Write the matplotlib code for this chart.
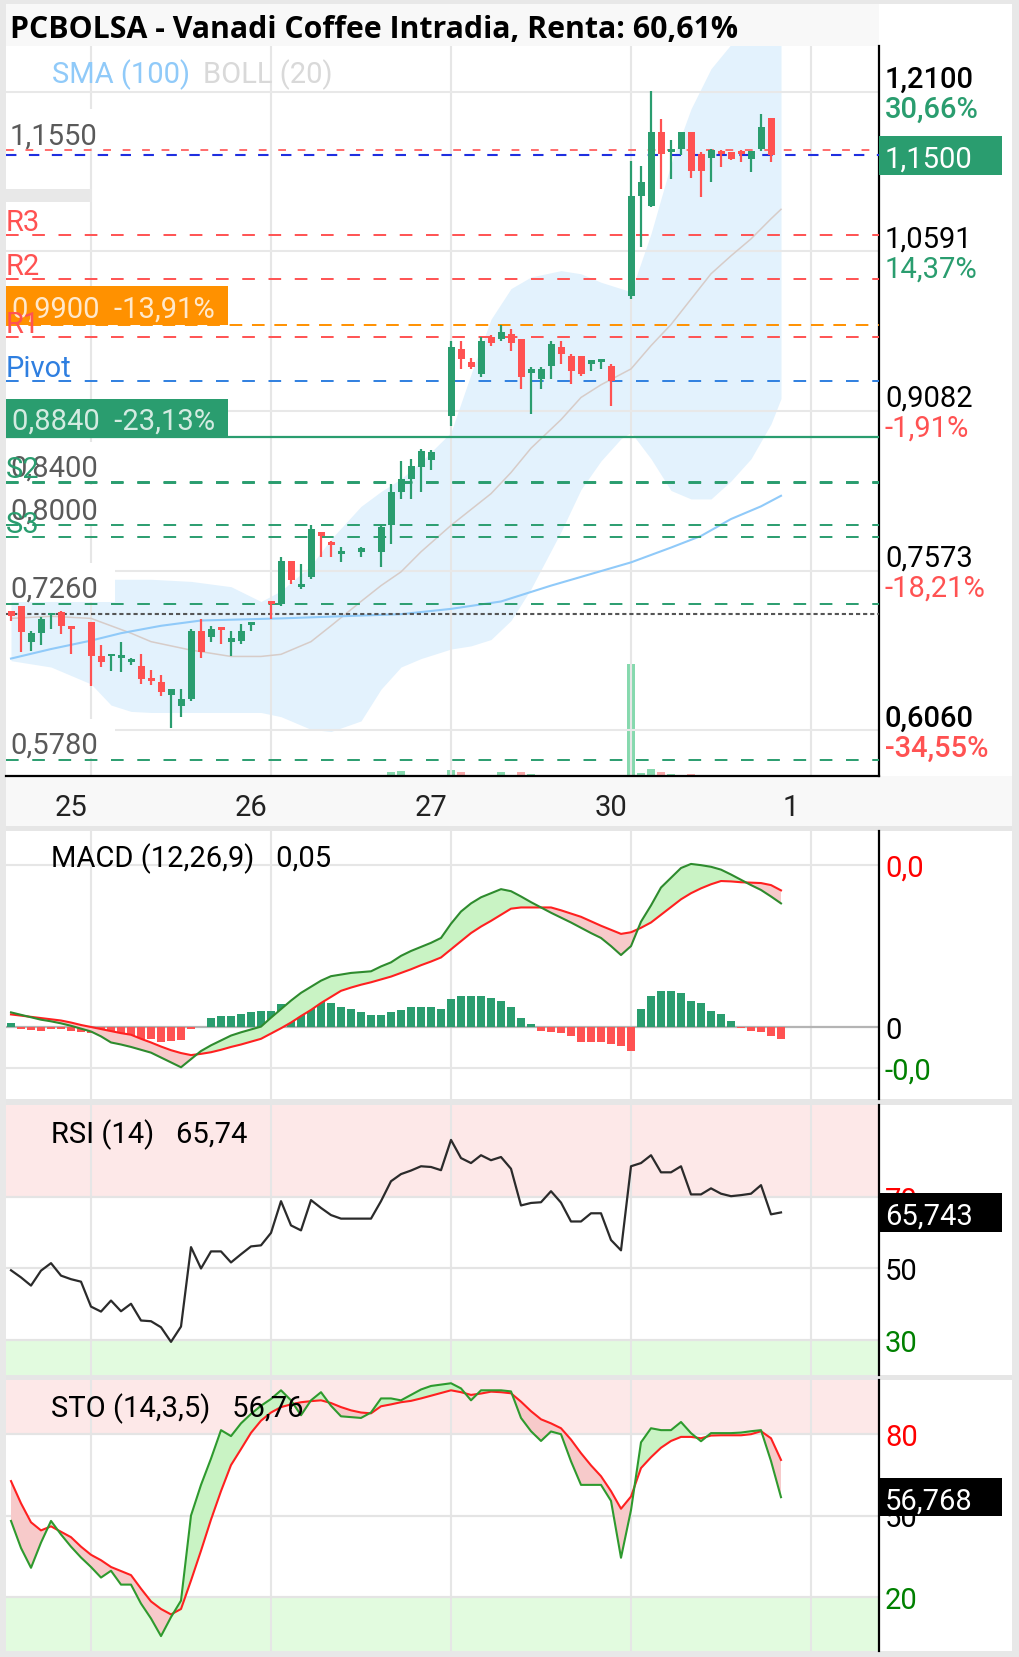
import numpy as np
import matplotlib.pyplot as plt
from matplotlib.patches import Rectangle
from matplotlib.transforms import blended_transform_factory

plt.rcParams['font.family'] = ['Roboto', 'DejaVu Sans']

W, H = 1020, 1658
FS = 21
GREEN = '#2a9d6f'
RED = '#ff5252'

# ---------------- data ----------------
# time axis in 30 min slots, 18 slots per session, session of the 25th starts at 0
day_labels = ['25', '26', '27', '30', '1']
day_start = [0, 18, 36, 54, 72]

candle_t = ([-8, -7, -6, -5, -4, -3, -2]
            + list(range(0, 17))
            + [18, 19, 20, 21, 22, 23, 24, 25, 27, 29, 30, 31, 32, 33, 34]
            + list(range(36, 53))
            + list(range(54, 69)))

opens = [0.719, 0.724, 0.690, 0.698, 0.715, 0.718, 0.704,
         0.709, 0.676, 0.676, 0.675, 0.671, 0.667, 0.655, 0.652, 0.640, 0.629, 0.636, 0.700, 0.694, 0.704, 0.690, 0.691, 0.706,
         0.728, 0.726, 0.766, 0.742, 0.751, 0.794, 0.784, 0.773, 0.775, 0.775, 0.800, 0.832, 0.844, 0.855, 0.862,
         0.903, 0.967, 0.955, 0.943, 0.978, 0.976, 0.981, 0.976, 0.944, 0.938, 0.951, 0.969, 0.960, 0.960, 0.953, 0.955, 0.951,
         1.017, 1.112, 1.102, 1.172, 1.153, 1.156, 1.172, 1.151, 1.148, 1.154, 1.153, 1.154, 1.147, 1.156, 1.185]
highs = [0.719, 0.724, 0.700, 0.713, 0.717, 0.719, 0.705,
         0.709, 0.687, 0.678, 0.690, 0.675, 0.678, 0.663, 0.658, 0.645, 0.645, 0.702, 0.711, 0.705, 0.704, 0.700, 0.707, 0.709,
         0.728, 0.770, 0.766, 0.763, 0.800, 0.794, 0.785, 0.780, 0.780, 0.800, 0.839, 0.861, 0.863, 0.872, 0.871,
         0.974, 0.974, 0.958, 0.978, 0.980, 0.990, 0.986, 0.976, 0.950, 0.950, 0.974, 0.974, 0.962, 0.960, 0.956, 0.957, 0.953,
         1.145, 1.140, 1.211, 1.184, 1.165, 1.172, 1.172, 1.153, 1.156, 1.155, 1.153, 1.155, 1.154, 1.189, 1.185]
lows = [0.710, 0.680, 0.681, 0.687, 0.702, 0.697, 0.678,
        0.648, 0.666, 0.662, 0.661, 0.668, 0.650, 0.649, 0.639, 0.608, 0.619, 0.634, 0.675, 0.690, 0.688, 0.676, 0.688, 0.700,
        0.711, 0.724, 0.745, 0.740, 0.749, 0.770, 0.770, 0.765, 0.770, 0.761, 0.782, 0.825, 0.825, 0.832, 0.852,
        0.894, 0.948, 0.948, 0.940, 0.970, 0.974, 0.965, 0.929, 0.905, 0.929, 0.938, 0.953, 0.934, 0.941, 0.946, 0.948, 0.913,
        1.014, 1.063, 1.101, 1.118, 1.128, 1.150, 1.129, 1.111, 1.125, 1.139, 1.146, 1.144, 1.134, 1.154, 1.144]
closes = [0.714, 0.699, 0.698, 0.711, 0.717, 0.705, 0.702,
          0.676, 0.671, 0.678, 0.677, 0.673, 0.655, 0.653, 0.642, 0.645, 0.636, 0.700, 0.680, 0.702, 0.701, 0.693, 0.700, 0.709,
          0.726, 0.766, 0.748, 0.744, 0.797, 0.790, 0.781, 0.776, 0.779, 0.798, 0.832, 0.844, 0.856, 0.870, 0.869,
          0.969, 0.957, 0.950, 0.974, 0.973, 0.983, 0.973, 0.940, 0.948, 0.948, 0.972, 0.962, 0.946, 0.943, 0.956, 0.957, 0.937,
          1.112, 1.125, 1.172, 1.151, 1.156, 1.172, 1.135, 1.135, 1.155, 1.151, 1.147, 1.151, 1.154, 1.177, 1.150]
volumes = [0.6, 0.5, 0.4, 0.5, 0.3, 0.4, 0.5,
           0.8, 0.5, 0.4, 0.5, 0.3, 0.5, 0.4, 0.6, 0.9, 0.5, 1.0, 0.6, 0.4, 0.3, 0.5, 0.4, 0.6,
           0.8, 1.2, 0.6, 0.5, 1.0, 0.6, 0.4, 0.3, 0.3, 0.9, 4.0, 4.5, 1.0, 1.2, 0.8,
           5.0, 4.0, 1.0, 1.2, 1.0, 4.0, 1.0, 4.0, 1.5, 0.8, 1.0, 0.6, 0.8, 0.7, 0.5, 0.4, 1.2,
           100, 3.0, 6.0, 4.0, 1.5, 1.2, 1.5, 1.0, 0.8, 0.5, 0.4, 0.5, 0.6, 1.2, 1.0]

band_t = [-8, -4, 0, 2, 4, 6, 10, 14, 17, 19, 22, 24, 27, 29, 31, 33, 36, 38, 40, 42,
          44, 47, 49, 51, 53, 54, 56, 58, 60, 62, 64, 66, 68, 69]
boll_up = [0.730, 0.738, 0.746, 0.749, 0.749, 0.749, 0.747, 0.742, 0.728, 0.738, 0.762, 0.787, 0.818, 0.832,
           0.844, 0.860, 0.888, 0.943, 0.995, 1.024, 1.035, 1.041, 1.038, 1.030, 1.024, 1.021, 1.076, 1.142,
           1.194, 1.232, 1.255, 1.270, 1.277, 1.279]
boll_low = [0.672, 0.666, 0.650, 0.630, 0.624, 0.623, 0.623, 0.623, 0.623, 0.619, 0.607, 0.605, 0.615, 0.645,
            0.666, 0.674, 0.683, 0.686, 0.692, 0.710, 0.740, 0.794, 0.834, 0.861, 0.882, 0.888, 0.863, 0.833,
            0.825, 0.825, 0.842, 0.863, 0.896, 0.920]
boll_mid = [0.712, 0.714, 0.712, 0.705, 0.698, 0.690, 0.682, 0.676, 0.676, 0.678, 0.690, 0.705, 0.728, 0.743,
            0.756, 0.775, 0.800, 0.815, 0.830, 0.850, 0.873, 0.900, 0.921, 0.933, 0.943, 0.948, 0.970, 0.990,
            1.014, 1.038, 1.055, 1.071, 1.090, 1.099]

sma_t = [-8, -4, 0, 3, 7, 11, 15, 19, 25, 31, 36, 41, 46, 50, 54, 58, 61, 64, 67, 69]
sma100 = [0.674, 0.683, 0.691, 0.698, 0.705, 0.710, 0.711, 0.712, 0.714, 0.716, 0.721, 0.728, 0.743,
          0.754, 0.765, 0.779, 0.790, 0.806, 0.818, 0.828]

# support / resistance
pivot_names = ['R3', 'R2', 'R1', 'Pivot', 'S2', 'S3']
pivot_vals = [1.0747, 1.0331, 0.9785, 0.9369, 0.8407, 0.7887]
pivot_cols = [RED, RED, RED, '#2f7fe0', GREEN, GREEN]
mark_vals = [1.1550, 0.8400, 0.8000, 0.7260, 0.5780]
mark_text = ['1,1550', '0,8400', '0,8000', '0,7260', '0,5780']
mark_cols = ['#ff6b6b', GREEN, GREEN, GREEN, GREEN]
last_price = 1.15
prev_close = 0.7161
alert_vals = [0.9900, 0.8840]
alert_text = ['0,9900  -13,91%', '0,8840  -23,13%']
alert_cols = ['#ff9100', GREEN]

grid_prices = [1.2100, 1.0591, 0.9082, 0.7573, 0.6060]
grid_price_txt = ['1,2100', '1,0591', '0,9082', '0,7573', '0,6060']
grid_pct_txt = ['30,66%', '14,37%', '-1,91%', '-18,21%', '-34,55%']
grid_pct_col = [GREEN, GREEN, RED, RED, RED]

# indicators, one value per slot from -8 to 69
ind_t = list(range(-8, 70))
macd = np.array([0.37, 0.31, 0.25, 0.19, 0.15, 0.10, 0.04, -0.03,
                 -0.10, -0.22, -0.37, -0.42, -0.48, -0.55, -0.62, -0.74, -0.86, -0.98,
                 -0.78, -0.58, -0.44, -0.32, -0.20, -0.12, -0.05, 0.02, 0.24, 0.45,
                 0.66, 0.85, 1.00, 1.15, 1.26, 1.30, 1.34, 1.36, 1.38, 1.50,
                 1.60, 1.76, 1.88, 1.98, 2.08, 2.20, 2.55, 2.85, 3.05, 3.20,
                 3.30, 3.40, 3.35, 3.22, 3.08, 2.95, 2.82, 2.70, 2.58, 2.45,
                 2.32, 2.20, 2.00, 1.78, 2.00, 2.60, 3.00, 3.44, 3.68, 3.92,
                 4.02, 3.99, 3.95, 3.88, 3.76, 3.63, 3.50, 3.38, 3.22, 3.05]) / 100
signal = np.array([0.32, 0.29, 0.26, 0.23, 0.20, 0.17, 0.12, 0.06,
                   0.01, -0.04, -0.09, -0.14, -0.18, -0.28, -0.37, -0.47, -0.56, -0.63,
                   -0.68, -0.65, -0.61, -0.55, -0.48, -0.42, -0.35, -0.28, -0.15, -0.02,
                   0.12, 0.28, 0.43, 0.60, 0.75, 0.90, 0.98, 1.05, 1.11, 1.18,
                   1.25, 1.34, 1.43, 1.53, 1.62, 1.72, 1.92, 2.12, 2.32, 2.48,
                   2.62, 2.77, 2.92, 2.95, 2.95, 2.95, 2.95, 2.88, 2.80, 2.72,
                   2.61, 2.50, 2.40, 2.30, 2.34, 2.45, 2.58, 2.77, 2.96, 3.15,
                   3.30, 3.42, 3.52, 3.60, 3.59, 3.57, 3.56, 3.55, 3.50, 3.37]) / 100
hist = np.array([0.12, -0.05, -0.06, -0.08, -0.04, -0.04, -0.08, -0.12,
                 -0.14, -0.18, -0.22, -0.27, -0.24, -0.28, -0.28, -0.37, -0.33, -0.30,
                 -0.04, 0.02, 0.24, 0.28, 0.28, 0.33, 0.37, 0.41, 0.41, 0.57,
                 0.57, 0.54, 0.65, 0.65, 0.61, 0.49, 0.45, 0.37, 0.30, 0.30,
                 0.37, 0.43, 0.49, 0.49, 0.49, 0.45, 0.69, 0.77, 0.77, 0.77,
                 0.73, 0.65, 0.49, 0.24, 0.08, -0.08, -0.12, -0.14, -0.20, -0.37,
                 -0.37, -0.37, -0.41, -0.45, -0.57, 0.45, 0.77, 0.89, 0.89, 0.85,
                 0.65, 0.61, 0.41, 0.33, 0.16, -0.02, -0.08, -0.12, -0.20, -0.28]) / 100
rsi = [49.5, 47.5, 45.2, 49.4, 51.5, 48.0, 47.0, 46.3,
       39.3, 37.9, 41.0, 38.0, 40.1, 35.4, 35.2, 33.5, 29.4, 33.7,
       56.0, 50.0, 54.8, 54.8, 51.7, 54.0, 56.2, 56.5, 60.0, 68.9,
       62.1, 60.7, 69.2, 67.0, 65.0, 64.0, 64.0, 64.0, 64.0, 68.9,
       74.5, 76.5, 77.5, 78.7, 78.5, 77.6, 86.1, 81.0, 79.6, 81.8,
       80.4, 81.3, 78.0, 67.7, 68.4, 68.6, 71.7, 68.5, 63.2, 63.2,
       65.5, 65.5, 58.0, 55.1, 78.7, 79.6, 81.8, 77.0, 77.0, 78.7,
       70.8, 70.8, 72.5, 71.0, 70.3, 70.6, 71.0, 73.4, 65.2, 65.74]
sto_k = np.array([48.0, 38.0, 30.7, 40.0, 48.0, 43.0, 38.5, 34.5,
                  31.0, 27.1, 29.6, 24.5, 24.5, 17.5, 12.0, 5.5, 12.5, 18.6,
                  50.0, 61.3, 71.0, 81.5, 79.3, 84.0, 87.5, 90.5, 93.0, 96.2,
                  92.5, 87.0, 92.5, 95.5, 90.5, 86.6, 86.3, 86.0, 88.0, 93.2,
                  93.2, 92.5, 94.5, 96.5, 97.8, 98.3, 98.8, 96.9, 92.5, 96.2,
                  96.2, 96.2, 95.8, 86.0, 81.1, 77.5, 81.0, 80.0, 70.0, 61.3,
                  61.3, 61.3, 55.4, 34.4, 52.0, 77.0, 82.2, 81.5, 81.5, 84.5,
                  80.4, 77.4, 80.4, 80.4, 80.4, 80.6, 81.1, 81.5, 70.1, 56.76])
sto_d = np.array([62.7, 54.5, 47.5, 44.5, 46.0, 44.0, 42.0, 38.5,
                  35.5, 33.5, 31.0, 29.5, 28.0, 23.0, 18.3, 15.5, 13.5, 15.5,
                  26.0, 37.0, 48.5, 59.0, 68.6, 74.5, 80.5, 85.0, 88.0, 90.0,
                  91.0, 91.8, 92.2, 92.5, 91.5, 90.0, 88.8, 88.0, 87.7, 90.3,
                  91.0, 91.8, 92.3, 93.2, 94.2, 95.2, 96.2, 95.5, 94.5, 95.0,
                  95.7, 95.5, 95.1, 92.0, 88.5, 85.5, 84.0, 82.2, 78.0, 73.0,
                  68.5, 64.5, 59.0, 52.5, 57.0, 67.5, 71.5, 75.0, 77.5, 79.0,
                  79.0, 78.5, 79.5, 79.6, 79.6, 79.6, 80.0, 81.1, 78.5, 70.5])

# ---------------- figure ----------------
fig = plt.figure(figsize=(W / 100, H / 100), dpi=100)
fig.patch.set_facecolor('#e8e8e8')


def box(x0, y0, x1, y1):
    return [x0 / W, 1 - y1 / H, (x1 - x0) / W, (y1 - y0) / H]


def bg(x0, y0, x1, y1, color):
    fig.add_artist(Rectangle((x0 / W, 1 - y1 / H), (x1 - x0) / W, (y1 - y0) / H,
                             transform=fig.transFigure, facecolor=color, lw=0, zorder=-10))


bg(6, 5, 1012, 1652, 'white')
bg(6, 5, 879, 47, '#f8f8f8')
bg(6, 777, 1012, 827, '#f8f8f8')
bg(6, 827, 1012, 832, '#e6e6e6')
bg(6, 1100, 1012, 1106, '#e6e6e6')
bg(6, 1376, 1012, 1381, '#e6e6e6')


def panel(y0, y1, bottom=False):
    a = fig.add_axes(box(6, y0, 879, y1))
    a.patch.set_visible(False)
    a.set_xticks([])
    a.set_yticks([])
    a.spines['top'].set_visible(False)
    a.spines['left'].set_visible(False)
    a.spines['bottom'].set_visible(bottom)
    a.spines['bottom'].set_linewidth(1.6)
    a.spines['right'].set_linewidth(1.6)
    a.set_xlim(-8.5, 78.8)
    for d in day_start:
        a.axvline(d, color='#e6e6e6', lw=1.5, zorder=0.5)
    return a


def side(a, s, y, dx, dy, color, va='baseline', **kw):
    a.annotate(s, xy=(1, y), xycoords=('axes fraction', 'data'), xytext=(dx, dy),
               textcoords='offset pixels', color=color, fontsize=FS, va=va,
               annotation_clip=False, **kw)


def value_tag(a, s, y, h, color):
    tr = blended_transform_factory(a.transAxes, a.transData)
    a.add_patch(Rectangle((1.0, y - h / 2), 0.141, h, transform=tr, facecolor=color,
                          lw=0, clip_on=False, zorder=6))
    side(a, s, y, 6, 0, 'white', va='center_baseline', zorder=7)


# ---- main price panel ----
vol = fig.add_axes(box(6, 47, 879, 777))
vol.axis('off')
vol.set_xlim(-8.5, 78.8)
vol.set_ylim(0, 652)
vol_cols = ['#86d9ae' if c >= o else '#f8a9a9' for o, c in zip(opens, closes)]
vol.bar(candle_t, volumes, width=0.75, color=vol_cols)
vol.set_zorder(-1)

ax = panel(47, 777, bottom=True)
ax.set_ylim(0.5629, 1.2535)

ax.fill_between(band_t, boll_low, boll_up, color='#e3f2fd', lw=0, zorder=0.3)
for p in grid_prices:
    ax.axhline(p, color='#e8e8e8', lw=1.5, zorder=0.5)
ax.plot(band_t, boll_mid, color='#d7ccc8', lw=1.1, zorder=1)
ax.plot(sma_t, sma100, color='#90caf9', lw=1.5, zorder=1)

trL = blended_transform_factory(ax.transAxes, ax.transData)
ax.add_patch(Rectangle((0, 1.106), 0.0985, 0.012, transform=trL, facecolor='#e8e8e8',
                       lw=0, zorder=2))

for v, c in zip(pivot_vals, pivot_cols):
    ax.axhline(v, color=c, lw=1.4, ls=(0, (6.5, 7)), zorder=3)
for v, c in zip(mark_vals, mark_cols):
    ax.axhline(v, color=c, lw=1.4, ls=(0, (6.5, 7)) if c == GREEN else (0, (4, 6)), zorder=3)
ax.axhline(last_price, color='#1f2fe0', lw=1.5, ls=(0, (5, 6)), zorder=3.2)
ax.axhline(prev_close, color='#555555', lw=1.5, ls=(0, (2, 1.4)), zorder=3)
ax.axhline(alert_vals[0], color=alert_cols[0], lw=1.4, ls=(0, (6.5, 5)), zorder=3)
ax.axhline(alert_vals[1], color=alert_cols[1], lw=1.6, zorder=3)

# candles
for t, o, hi, lo, c in zip(candle_t, opens, highs, lows, closes):
    col = GREEN if c >= o else RED
    ax.vlines(t, lo, hi, color=col, lw=1.6, zorder=4)
    ax.bar(t, max(abs(c - o), 0.0025), bottom=min(o, c), width=0.7, color=col, zorder=4)

# labels on the left (white label boxes hide band and grid behind them)
for v, s in zip(mark_vals, mark_text):
    ax.add_patch(Rectangle((0, v + 0.0016), 0.125, 0.037, transform=trL, facecolor='white',
                           lw=0, zorder=2.4))
    ax.annotate(s, xy=(0, v), xycoords=('axes fraction', 'data'), xytext=(4, 7),
                textcoords='offset pixels', color='#5a5a5a', fontsize=FS, va='baseline',
                zorder=2.5)
for v, s, c in zip(alert_vals, alert_text, alert_cols):
    ax.add_patch(Rectangle((0, v), 0.254, 0.036, transform=trL, facecolor=c, lw=0, zorder=5))
    ax.annotate(s, xy=(0, v), xycoords=('axes fraction', 'data'), xytext=(6, 8),
                textcoords='offset pixels', color='white', alpha=0.8, fontsize=FS,
                va='baseline', zorder=6)
for v, s, c in zip(pivot_vals, pivot_names, pivot_cols):
    ax.annotate(s, xy=(0, v), xycoords=('axes fraction', 'data'), xytext=(0, 5),
                textcoords='offset pixels', color=c, fontsize=FS, va='baseline', zorder=7)

# right axis labels
for p, s, q, qc, i in zip(grid_prices, grid_price_txt, grid_pct_txt, grid_pct_col, range(5)):
    w = 'medium' if i in (0, 4) else 'normal'
    side(ax, s, p, 6, 5, 'black', fontweight=w)
    side(ax, q, p, 6, -25, qc, fontweight=w)
value_tag(ax, '1,1500', last_price, 0.037, GREEN)

for d, s in zip(day_start, day_labels):
    ax.annotate(s, xy=(d - 2, 0), xycoords=('data', 'axes fraction'), xytext=(0, -28),
                textcoords='offset pixels', ha='center', va='center_baseline',
                color='#222222', fontsize=FS, annotation_clip=False)

fig.text(10 / W, 1 - 26 / H, 'PCBOLSA - Vanadi Coffee Intradia, Renta: 60,61%',
         family=['Open Sans', 'DejaVu Sans'], fontweight='bold', fontsize=21.8,
         va='center_baseline')
fig.text(52 / W, 1 - 71 / H, 'SMA (100)', color='#90caf9', fontsize=FS, va='center_baseline')
fig.text(203 / W, 1 - 71 / H, 'BOLL (20)', color='#d9d9d9', fontsize=FS, va='center_baseline')

# ---- MACD ----
am = panel(832, 1100)
am.set_ylim(-0.0176, 0.0483)
for v in [0.04, -0.01]:
    am.axhline(v, color='#e6e6e6', lw=1.5, zorder=0.5)
am.axhline(0, color='#b4b4b4', lw=1.6, zorder=0.6)
am.bar(ind_t, hist, width=0.8, color=[GREEN if h >= 0 else RED for h in hist], zorder=1)
am.fill_between(ind_t, macd, signal, where=macd >= signal, interpolate=True,
                color='#c9f3c4', lw=0, zorder=2)
am.fill_between(ind_t, macd, signal, where=macd < signal, interpolate=True,
                color='#f7caca', lw=0, zorder=2)
am.plot(ind_t, signal, color='#ff2020', lw=1.5, zorder=3)
am.plot(ind_t, macd, color='#2e8b2e', lw=1.5, zorder=3)
side(am, '0,0', 0.04, 6, 0, '#ff0000', va='center_baseline')
side(am, '0', 0.0, 6, 0, 'black', va='center_baseline')
side(am, '-0,0', -0.01, 6, 0, '#008000', va='center_baseline')
fig.text(51 / W, 1 - 855 / H, 'MACD (12,26,9)   0,05', fontsize=FS, va='center_baseline')

# ---- RSI ----
ar = panel(1106, 1376)
ar.set_ylim(20.1, 95.9)
ar.axhspan(70, 100, color='#fde8e8', lw=0, zorder=0.2)
ar.axhspan(0, 30, color='#e2fbdf', lw=0, zorder=0.2)
for v in [70, 50, 30]:
    ar.axhline(v, color='#e4e4e4', lw=1.6, zorder=0.5)
ar.plot(ind_t, rsi, color='#2b2b2b', lw=1.6, zorder=3)
side(ar, '70', 70, 6, 0, '#ff0000', va='center_baseline', zorder=5)
side(ar, '50', 50, 6, 0, 'black', va='center_baseline')
side(ar, '30', 30, 6, 0, '#008000', va='center_baseline')
value_tag(ar, '65,743', rsi[-1], 11.0, 'black')
fig.text(51 / W, 1 - 1131 / H, 'RSI (14)   65,74', fontsize=FS, va='center_baseline')

# ---- STO ----
ast = panel(1381, 1652)
ast.set_ylim(0, 100)
ast.axhspan(80, 100, color='#fde8e8', lw=0, zorder=0.2)
ast.axhspan(0, 20, color='#e2fbdf', lw=0, zorder=0.2)
for v in [80, 50, 20]:
    ast.axhline(v, color='#e4e4e4', lw=1.6, zorder=0.5)
ast.fill_between(ind_t, sto_k, sto_d, where=sto_k >= sto_d, interpolate=True,
                 color='#c9f3c4', lw=0, zorder=2)
ast.fill_between(ind_t, sto_k, sto_d, where=sto_k < sto_d, interpolate=True,
                 color='#f7caca', lw=0, zorder=2)
ast.plot(ind_t, sto_d, color='#ff2020', lw=1.5, zorder=3)
ast.plot(ind_t, sto_k, color='#2e9a2e', lw=1.5, zorder=3)
side(ast, '80', 80, 6, 0, '#ff0000', va='center_baseline')
side(ast, '50', 50, 6, 0, 'black', va='center_baseline', zorder=5)
side(ast, '20', 20, 6, 0, '#008000', va='center_baseline')
value_tag(ast, '56,768', sto_k[-1], 14.0, 'black')
fig.text(51 / W, 1 - 1405 / H, 'STO (14,3,5)   56,76', fontsize=FS, va='center_baseline')

fig.savefig('out.png', dpi=100, facecolor=fig.get_facecolor())
